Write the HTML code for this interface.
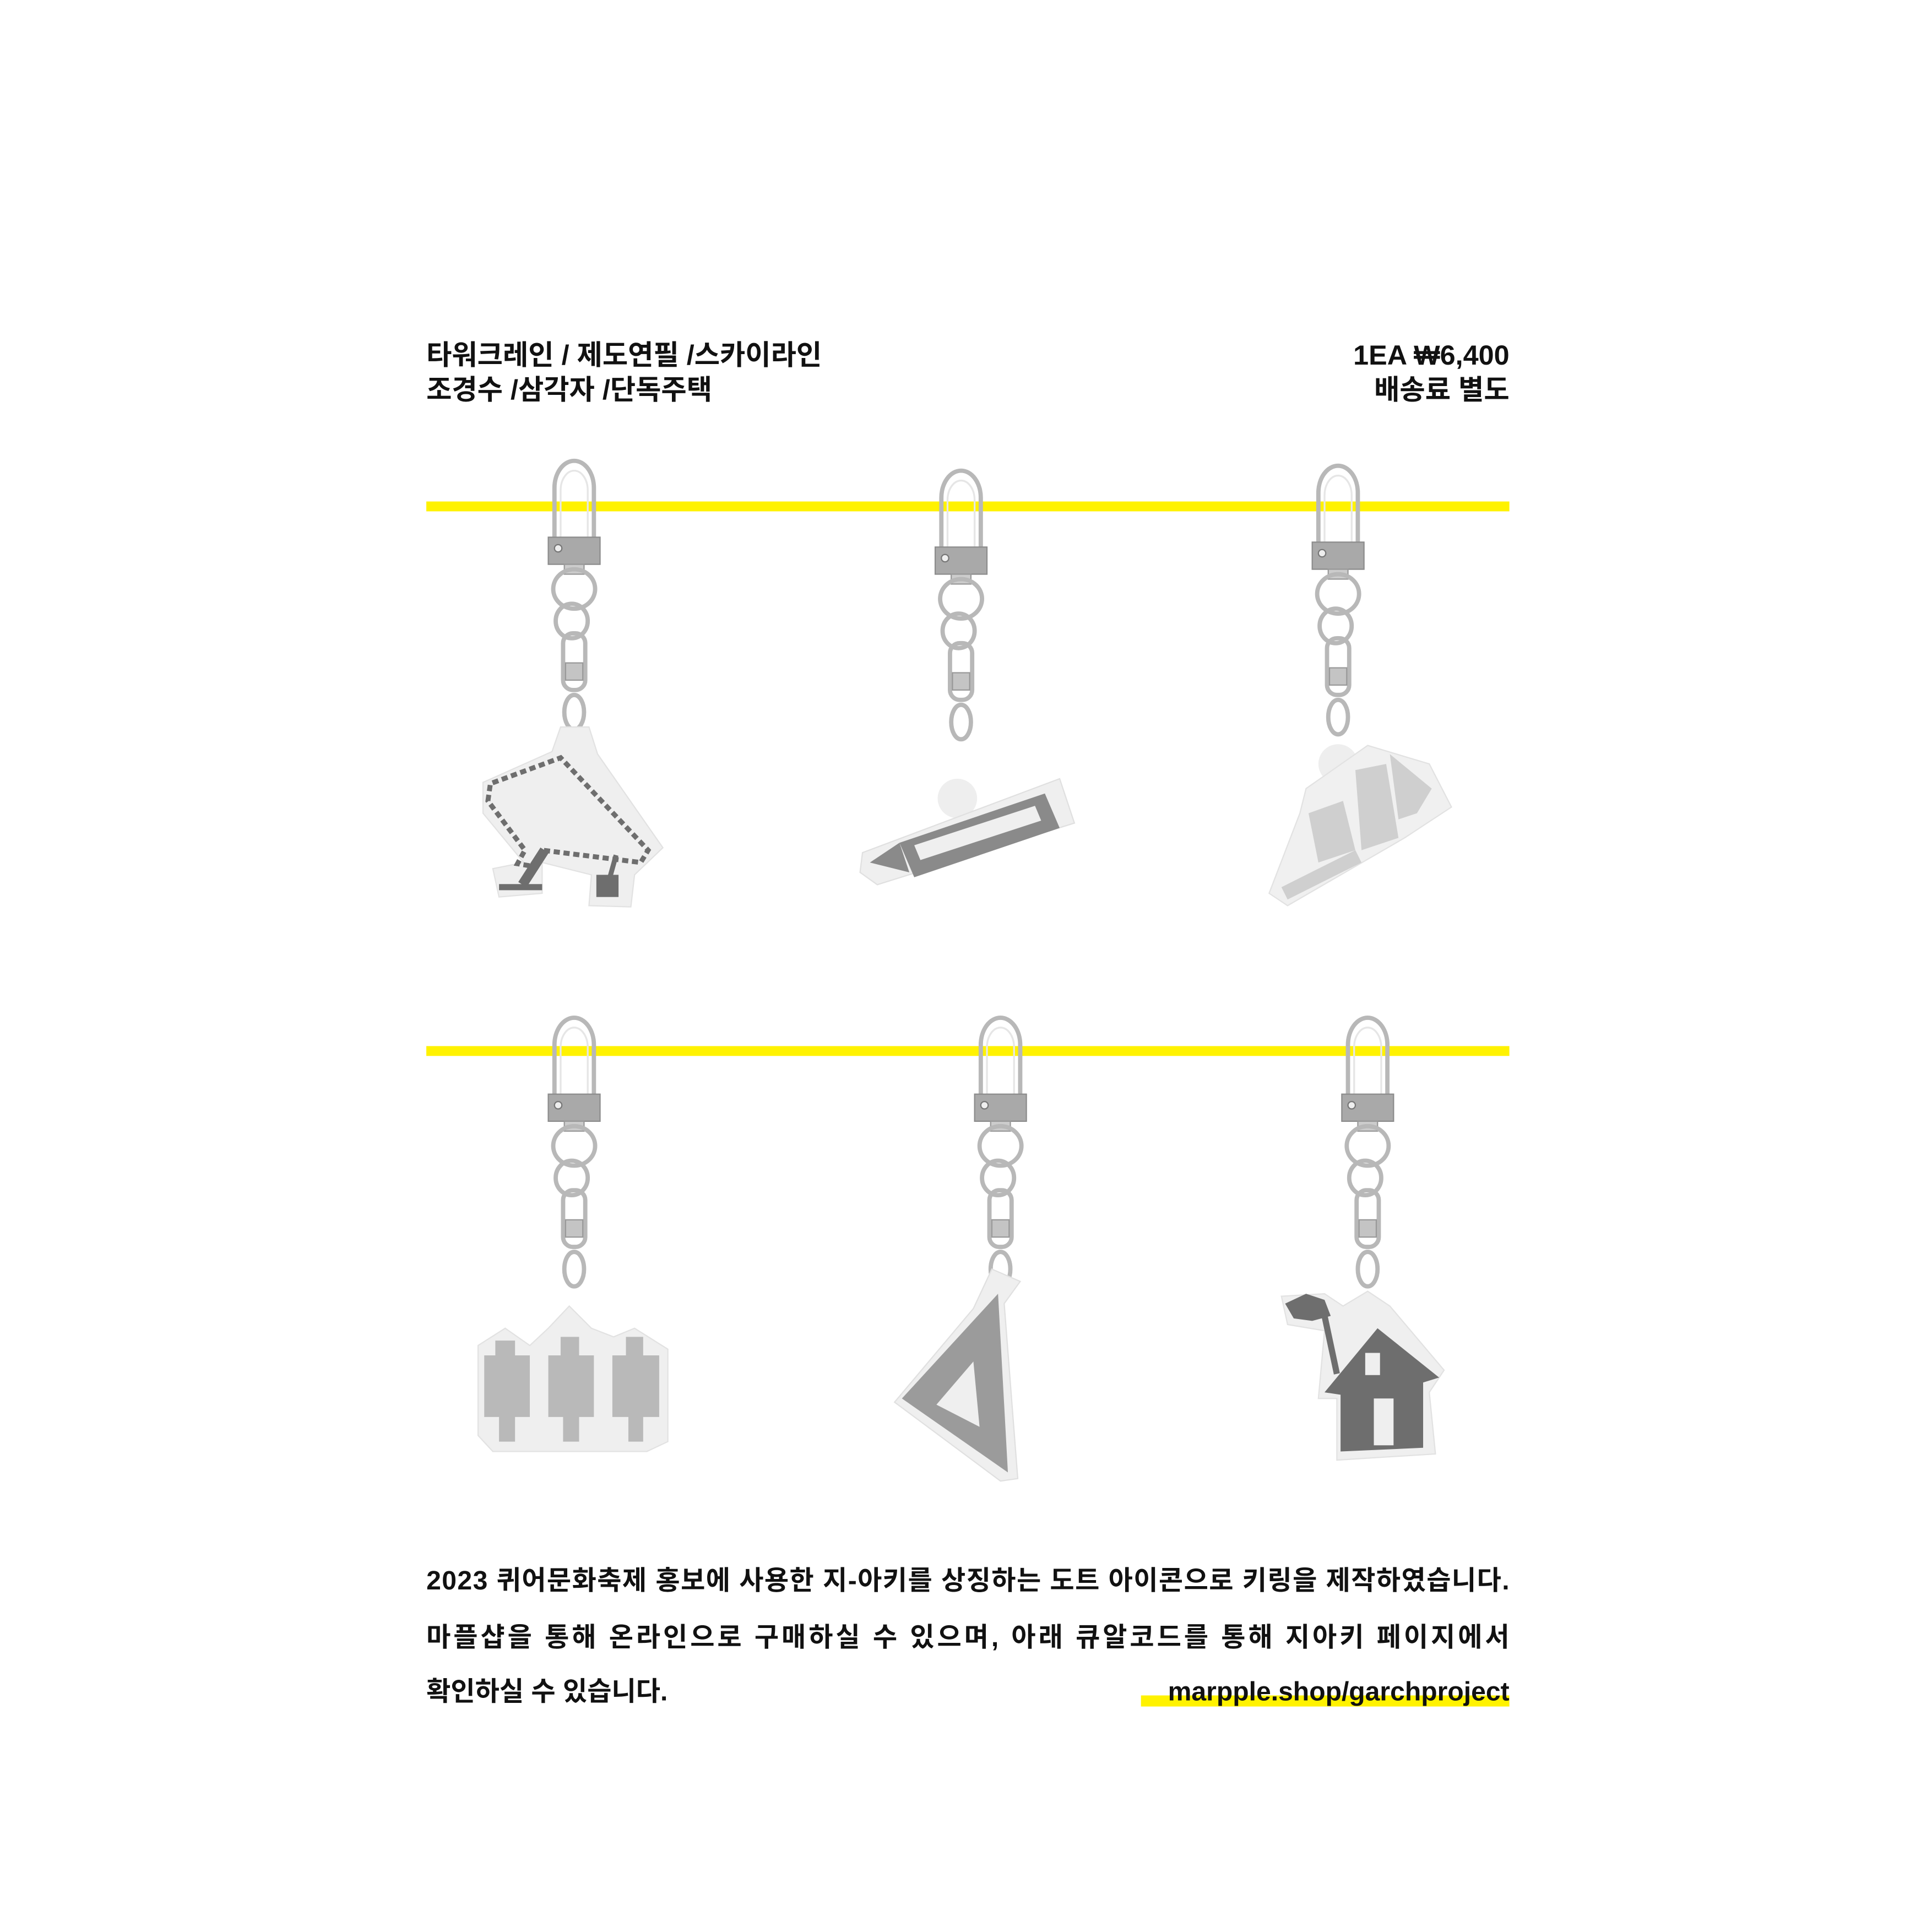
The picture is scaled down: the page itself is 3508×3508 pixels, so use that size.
<!DOCTYPE html>
<html><head><meta charset="utf-8"><style>
html,body{margin:0;padding:0;background:#fff;}
svg{display:block;}
text{font-family:"Liberation Sans","Noto Sans CJK KR",sans-serif;font-weight:bold;fill:#111;}
</style></head><body>
<svg width="3508" height="3508" viewBox="0 0 1568 1568" xmlns="http://www.w3.org/2000/svg">
<defs>
<g id="chain">
  <path d="M-16 62 L-16 18 A16 22 0 0 1 16 18 L16 62" fill="none" stroke="#b8b8b8" stroke-width="3.5"/>
  <path d="M-11 60 L-11 20 A11 16 0 0 1 11 20 L11 60" fill="none" stroke="#e6e6e6" stroke-width="1.5"/>
  <rect x="-21" y="58" width="42" height="22" fill="#a9a9a9" stroke="#8c8c8c"/>
  <circle cx="-13" cy="67" r="3" fill="#eee" stroke="#777"/>
  <rect x="-8" y="80" width="16" height="8" fill="#ccc" stroke="#999"/>
  <ellipse cx="0" cy="100" rx="17" ry="16" fill="none" stroke="#b8b8b8" stroke-width="3.5"/>
  <ellipse cx="-2" cy="126" rx="13" ry="14" fill="none" stroke="#b8b8b8" stroke-width="3.5"/>
  <rect x="-9" y="136" width="18" height="46" rx="8" fill="none" stroke="#b8b8b8" stroke-width="3.5"/>
  <rect x="-7" y="160" width="14" height="14" fill="#c4c4c4" stroke="#999"/>
  <ellipse cx="0" cy="200" rx="8" ry="14" fill="none" stroke="#b8b8b8" stroke-width="3.5"/>
</g>
</defs>
<rect width="1568" height="1568" fill="#fff"/>

<g font-size="22.5">
<text x="346" y="296">타워크레인 / 제도연필 /스카이라인</text>
<text x="346" y="324">조경수 /삼각자 /단독주택</text>
</g>
<g font-size="22.5" text-anchor="end">
<text x="1225" y="296">1EA ₩6,400</text>
<text x="1225" y="324">배송료 별도</text>
</g>

<rect x="346" y="407" width="879" height="8" fill="#fff200"/>
<rect x="346" y="849" width="879" height="8" fill="#fff200"/>

<g>
<use href="#chain" x="466" y="378"/>
<path d="M455 590 L478 590 L485 612 L538 688 L515 710 L512 736 L478 735 L480 710 L440 700 L440 725 L405 728 L400 705 L425 700 L392 660 L392 635 L448 610 Z" fill="#efefef" stroke="#e2e2e2"/>
<path d="M396 650 L398 636 L455 615 L526 690 L520 700 L440 690 L432 703 L420 701 L426 690 L396 650 Z" fill="none" stroke="#6e6e6e" stroke-width="4" stroke-dasharray="5 3"/>
<line x1="442" y1="690" x2="424" y2="718" stroke="#6e6e6e" stroke-width="8"/>
<line x1="405" y1="720" x2="440" y2="720" stroke="#6e6e6e" stroke-width="5"/>
<line x1="500" y1="694" x2="495" y2="712" stroke="#6e6e6e" stroke-width="4"/>
<rect x="484" y="710" width="18" height="18" fill="#6e6e6e"/>
</g>

<g>
<use href="#chain" x="780" y="386"/>
<circle cx="777" cy="648" r="16" fill="#eee"/>
<path d="M700 692 L860 632 L872 668 L712 718 L698 708 Z" fill="#efefef" stroke="#e0e0e0"/>
<path d="M730 684 L848 644 L860 672 L742 712 Z" fill="#8a8a8a"/>
<path d="M742 686 L840 654 L845 666 L747 698 Z" fill="#efefef"/>
<path d="M706 700 L730 684 L738 708 Z" fill="#8a8a8a"/>
</g>

<g>
<use href="#chain" x="1086" y="382"/>
<circle cx="1086" cy="620" r="16" fill="#eee"/>
<path d="M1060 640 L1110 605 L1160 620 L1178 655 L1140 680 L1045 735 L1030 725 L1055 660 Z" fill="#f0f0f0" stroke="#e2e2e2"/>
<path d="M1062 660 L1090 650 L1100 690 L1070 700 Z M1100 625 L1125 620 L1135 680 L1105 690 Z M1128 612 L1162 640 L1150 660 L1135 665 Z M1040 720 L1100 690 L1105 700 L1045 730 Z" fill="#cfcfcf"/>
</g>

<g>
<use href="#chain" x="466" y="830"/>
<path d="M388 1092 L410 1078 L430 1092 L445 1078 L462 1060 L480 1078 L498 1085 L515 1078 L542 1095 L542 1170 L525 1178 L400 1178 L388 1165 Z" fill="#efefef" stroke="#e2e2e2"/>
<path d="M402 1088 L418 1088 L418 1100 L430 1100 L430 1150 L418 1150 L418 1170 L405 1170 L405 1150 L393 1150 L393 1100 L402 1100 Z" fill="#b9b9b9"/>
<path d="M455 1085 L470 1085 L470 1100 L482 1100 L482 1150 L470 1150 L470 1170 L457 1170 L457 1150 L445 1150 L445 1100 L455 1100 Z" fill="#b9b9b9"/>
<path d="M508 1085 L522 1085 L522 1100 L535 1100 L535 1150 L522 1150 L522 1170 L510 1170 L510 1150 L497 1150 L497 1100 L508 1100 Z" fill="#b9b9b9"/>
</g>

<g>
<use href="#chain" x="812" y="830"/>
<path d="M805 1030 L828 1040 L815 1058 L826 1200 L812 1202 L726 1138 L790 1062 Z" fill="#efefef" stroke="#e0e0e0"/>
<path d="M810 1050 L818 1195 L732 1135 Z" fill="#9b9b9b"/>
<path d="M790 1105 L795 1158 L760 1140 Z" fill="#efefef"/>
</g>

<g>
<use href="#chain" x="1110" y="830"/>
<path d="M1040 1052 L1075 1050 L1090 1060 L1110 1048 L1128 1060 L1172 1112 L1160 1130 L1165 1180 L1085 1185 L1085 1135 L1070 1135 L1075 1080 L1045 1075 Z" fill="#efefef" stroke="#e2e2e2"/>
<path d="M1043 1058 L1060 1050 L1075 1055 L1080 1068 L1065 1072 L1050 1070 Z" fill="#6e6e6e"/>
<line x1="1075" y1="1068" x2="1085" y2="1115" stroke="#6e6e6e" stroke-width="5"/>
<path d="M1075 1130 L1118 1078 L1168 1118 L1155 1122 L1155 1175 L1088 1178 L1088 1132 Z" fill="#6e6e6e"/>
<rect x="1108" y="1098" width="12" height="18" fill="#efefef"/>
<rect x="1115" y="1135" width="16" height="38" fill="#efefef"/>
</g>

<g font-size="21.5">
<text x="346" y="1290" textLength="879" lengthAdjust="spacing">2023 퀴어문화축제 홍보에 사용한 지-아키를 상징하는 도트 아이콘으로 키링을 제작하였습니다.</text>
<text x="346" y="1336" textLength="879" lengthAdjust="spacing">마플샵을 통해 온라인으로 구매하실 수 있으며, 아래 큐알코드를 통해 지아키 페이지에서</text>
<text x="346" y="1380">확인하실 수 있습니다.</text>
</g>
<rect x="926" y="1376" width="299" height="9" fill="#fff200"/>
<text x="1225" y="1380" font-size="21.5" text-anchor="end">marpple.shop/garchproject</text>
</svg>
</body></html>
